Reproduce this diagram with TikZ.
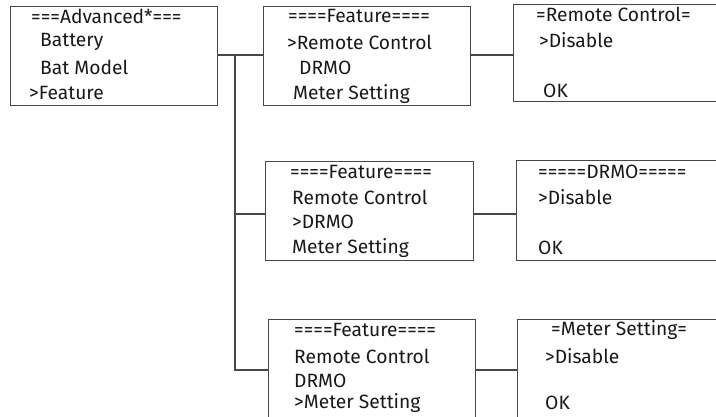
\documentclass[tikz,border=0pt]{standalone}
\usepackage{fontspec}
\setmainfont{Fira Sans}
\begin{document}
\begin{tikzpicture}[x=1bp,y=-1bp,
  menubox/.style={draw=black!72,line width=1.1bp,rectangle,inner sep=0pt,anchor=north west},
  txt/.style={anchor=west,inner sep=0pt,font=\fontsize{19.3}{22}\selectfont,text=black!90},
  conn/.style={draw=black!72,line width=1.1bp}]
\useasboundingbox (0,0) rectangle (716,416);
\clip (0,0) rectangle (716,416);
% boxes
\node[menubox,minimum width=207.5bp,minimum height=99bp] (b1) at (9.5,6) {};
\node[menubox,minimum width=207bp,minimum height=99bp] (b2) at (262.7,6) {};
\node[menubox,minimum width=230bp,minimum height=97bp] (b3) at (513,4) {};
\node[menubox,minimum width=208bp,minimum height=99.5bp] (b4) at (265,160.5) {};
\node[menubox,minimum width=230bp,minimum height=100bp] (b5) at (516,160) {};
\node[menubox,minimum width=207bp,minimum height=102bp] (b6) at (268,319) {};
\node[menubox,minimum width=230bp,minimum height=102bp] (b7) at (517,319) {};
% texts box1
\node[txt] (t11) at (31,16) {===Advanced*===};
\node[txt] (t12) at (40,42) {Battery};
\node[txt] (t13) at (40,67) {Bat Model};
\node[txt] (t14) at (29,93) {>Feature};
% box2
\node[txt] (t21) at (288,16) {====Feature====};
\node[txt] (t22) at (287,42) {>Remote Control};
\node[txt] (t23) at (299,68) {DRMO};
\node[txt] (t24) at (293,94) {Meter Setting};
% box3
\node[txt] (t31) at (536,14) {=Remote Control=};
\node[txt] (t32) at (539,40) {>Disable};
\node[txt] (t33) at (543,91) {OK};
% box4
\node[txt] (t41) at (290,172) {====Feature====};
\node[txt] (t42) at (292,197) {Remote Control};
\node[txt] (t43) at (292,222) {>DRMO};
\node[txt] (t44) at (292,248) {Meter Setting};
% box5
\node[txt] (t51) at (538,172) {=====DRMO=====};
\node[txt] (t52) at (538,197) {>Disable};
\node[txt] (t53) at (538,248) {OK};
% box6
\node[txt] (t61) at (294,330) {====Feature====};
\node[txt] (t62) at (294,356) {Remote Control};
\node[txt] (t63) at (294,381) {DRMO};
\node[txt] (t64) at (294,403) {>Meter Setting};
% box7
\node[txt] (t71) at (551,330) {=Meter Setting=};
\node[txt] (t72) at (545,356) {>Disable};
\node[txt] (t73) at (545,403) {OK};
% connectors
\coordinate (jt) at (235,55);
\coordinate (jm) at (235,214);
\coordinate (jb) at (235,370);
\draw[conn] (b1.east |- jt) -- (b2.west |- jt);
\draw[conn] (jt) -- (jb) -- (b6.west |- jb);
\draw[conn] (jm) -- (b4.west |- jm);
\draw[conn] (b2.east |- jt) -- (b3.west |- jt);
\draw[conn] (b4.east |- jm) -- (b5.west |- jm);
\draw[conn] (b6.east |- jb) -- (b7.west |- jb);
\end{tikzpicture}
\end{document}
